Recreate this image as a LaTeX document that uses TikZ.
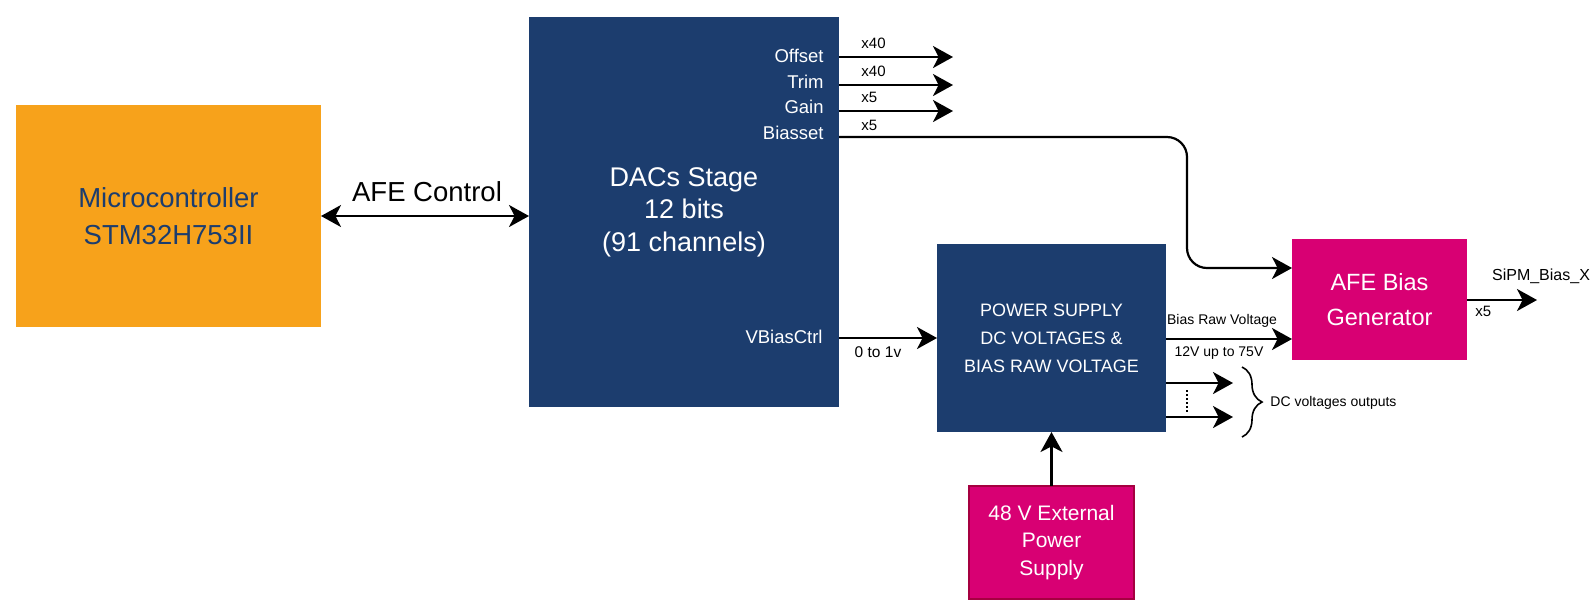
\documentclass[tikz,border=0pt]{standalone}
\usepackage{fontspec}
\setmainfont{Liberation Sans}
\usetikzlibrary{arrows.meta,decorations.pathreplacing,calc}
\definecolor{navy}{HTML}{1C3D6E}
\definecolor{orng}{HTML}{F7A21B}
\definecolor{mag}{HTML}{D80073}
\definecolor{magdark}{HTML}{A50040}
\newcommand{\fsz}[2]{\fontsize{#1}{#2}\selectfont}
\begin{document}
\begin{tikzpicture}[x=0.5pt,y=-0.5pt,
  box/.style={draw=none, inner sep=0pt, outer sep=0pt, align=center},
  arr/.style={line width=1.1pt, -{Stealth[length=10pt,width=11pt,inset=2.8pt]}},
  port/.style={text=white, inner sep=0pt, font=\fsz{9.25pt}{11pt}},
  mult/.style={text=black, inner sep=0pt, font=\fsz{7.5pt}{9pt}},
  small/.style={text=black, inner sep=0pt, font=\fsz{7pt}{8.5pt}}]
\useasboundingbox[fill=white] (0,0) rectangle (1593,607);

% blocks
\node[box, fill=orng, text=navy, minimum width=152.5pt, minimum height=111pt,
      font=\fsz{13.75pt}{18.25pt}] (mcu) at (168.5,216) {Microcontroller\\STM32H753II};
\node[box, fill=navy, text=white, minimum width=155pt, minimum height=195pt,
      font=\fsz{13.5pt}{16.25pt}] (dac) at (684,212) {DACs Stage\\12 bits\\(91 channels)};
\node[box, fill=navy, text=white, minimum width=114.5pt, minimum height=94pt,
      font=\fsz{9pt}{14pt}] (ps) at (1051.5,338) {POWER SUPPLY\\DC VOLTAGES \&\\BIAS RAW VOLTAGE};
\node[box, fill=mag, text=white, minimum width=87.5pt, minimum height=60.5pt,
      font=\fsz{11.75pt}{17.5pt}] (afe) at (1379.5,299.5) {AFE Bias\\Generator};
\node[box, fill=mag, draw=magdark, line width=0.75pt, text=white, minimum width=82.5pt, minimum height=56.5pt,
      font=\fsz{10.5pt}{13.75pt}] (ext) at (1051.5,542.5) {48 V External\\Power\\Supply};

% port labels inside DACs
\node[port, anchor=base east] (loff) at (824,62.5) {Offset};
\node[port, anchor=base east] (ltrim) at (824,88.3) {Trim};
\node[port, anchor=base east] (lgain) at (824,113.3) {Gain};
\node[port, anchor=base east] (lbias) at (824,139) {Biasset};
\node[port, anchor=base east] (lvb) at (823,343) {VBiasCtrl};

% AFE control
\draw[line width=1.1pt, {Stealth[length=10pt,width=11pt,inset=2.8pt]}-{Stealth[length=10pt,width=11pt,inset=2.8pt]}]
  (mcu.east) -- (mcu.east -| dac.west);
\node[inner sep=0pt, anchor=base, font=\fsz{13.75pt}{16pt}] (lafe) at (427,201.5) {AFE Control};

% DAC outputs
\coordinate (off1) at (953,57);
\coordinate (trim1) at (953,85);
\coordinate (gain1) at (953,111);
\draw[arr] (dac.east |- off1) -- (off1);
\draw[arr] (dac.east |- trim1) -- (trim1);
\draw[arr] (dac.east |- gain1) -- (gain1);
\node[mult, anchor=base west] (m1) at (861,48.5) {x40};
\node[mult, anchor=base west] (m2) at (861,76) {x40};
\node[mult, anchor=base west] (m3) at (861,102.7) {x5};
\node[mult, anchor=base west] (m4) at (861,130.7) {x5};

% Biasset to AFE
\coordinate (bturn) at (1187,137);
\coordinate (bin) at (1250,268);
\draw[arr, rounded corners=10pt] (dac.east |- bturn) -- (bturn) -- (bturn |- bin) -- (afe.west |- bin);

% VBiasCtrl
\draw[arr] (dac.east |- ps.west) -- (ps.west);
\node[inner sep=0pt, anchor=base, font=\fsz{7.75pt}{9pt}] (l01) at (878,357) {0 to 1v};

% Bias raw voltage
\coordinate (raw) at (1200,339);
\draw[arr] (ps.east |- raw) -- (afe.west |- raw);
\node[small, anchor=base] (lraw) at (1222,324) {Bias Raw Voltage};
\node[small, anchor=base] (lrange) at (1219,356.5) {12V up to 75V};

% AFE output
\coordinate (sipm) at (1537,300);
\draw[arr] (afe.east |- sipm) -- (sipm);
\node[inner sep=0pt, anchor=base, font=\fsz{8pt}{9pt}] (lsipm) at (1541,280) {SiPM\_Bias\_X};
\node[mult, anchor=base west] (lx5) at (1475,316.7) {x5};

% DC outputs
\coordinate (dc1) at (1233,383);
\coordinate (dc2) at (1233,417);
\draw[arr] (ps.east |- dc1) -- (dc1);
\draw[arr] (ps.east |- dc2) -- (dc2);
\coordinate (d1) at (1187,390);
\coordinate (d2) at (1187,412);
\draw[line width=1.3pt, dash pattern=on 1pt off 1pt] (d1) -- (d2);
\coordinate (br1) at (1242,367);
\coordinate (br2) at (1242,437);
\draw[decorate, decoration={brace, amplitude=10pt}, line width=0.8pt] (br1) -- (br2);
\node[small, anchor=base west] (ldc) at (1270,406.5) {DC voltages outputs};

% external supply
\draw[arr] (ext.north) -- (ps.south);
\end{tikzpicture}
\end{document}
